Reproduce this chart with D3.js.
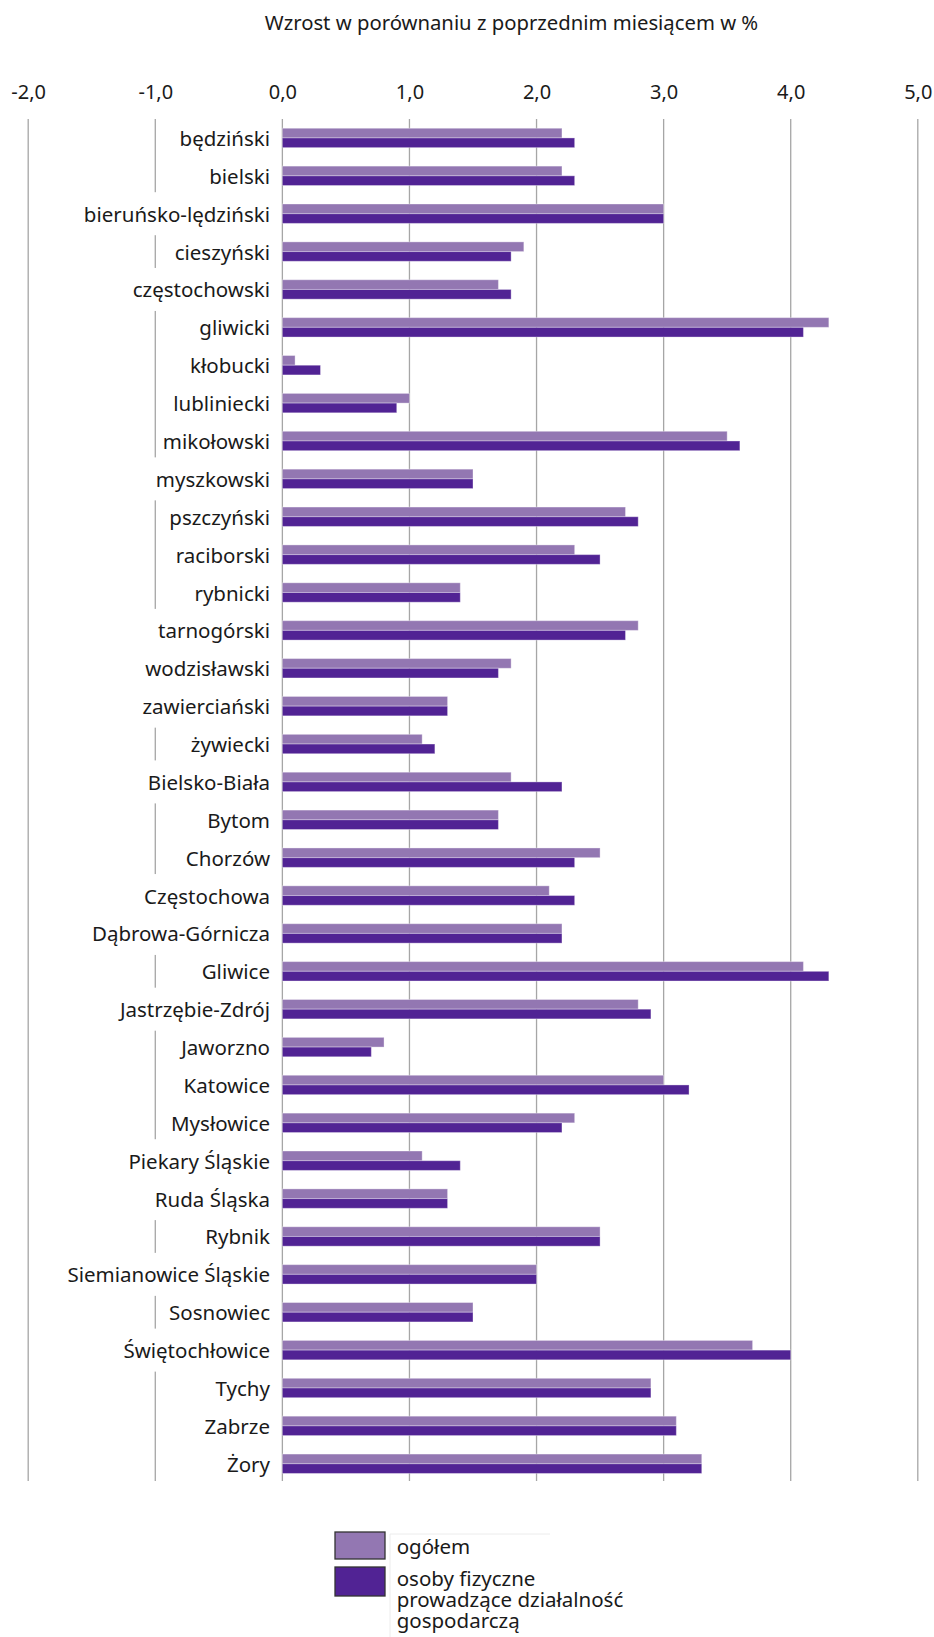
<!DOCTYPE html>
<html>
<head>
<meta charset="utf-8">
<script src="https://cdn.jsdelivr.net/npm/d3@7"></script>
<style>
  html, body { margin: 0; padding: 0; background: #fff; }
  svg { display: block; }
  text { font-family: "Noto Sans", "DejaVu Sans", sans-serif; fill: #1a1a1a; }
</style>
</head>
<body>
<script>
const categories = [
  "będziński", "bielski", "bieruńsko-lędziński", "cieszyński", "częstochowski",
  "gliwicki", "kłobucki", "lubliniecki", "mikołowski", "myszkowski",
  "pszczyński", "raciborski", "rybnicki", "tarnogórski", "wodzisławski",
  "zawierciański", "żywiecki", "Bielsko-Biała", "Bytom", "Chorzów",
  "Częstochowa", "Dąbrowa-Górnicza", "Gliwice", "Jastrzębie-Zdrój", "Jaworzno",
  "Katowice", "Mysłowice", "Piekary Śląskie", "Ruda Śląska", "Rybnik",
  "Siemianowice Śląskie", "Sosnowiec", "Świętochłowice", "Tychy", "Zabrze", "Żory"
];
const ogolem = [
  2.2, 2.2, 3.0, 1.9, 1.7,
  4.3, 0.1, 1.0, 3.5, 1.5,
  2.7, 2.3, 1.4, 2.8, 1.8,
  1.3, 1.1, 1.8, 1.7, 2.5,
  2.1, 2.2, 4.1, 2.8, 0.8,
  3.0, 2.3, 1.1, 1.3, 2.5,
  2.0, 1.5, 3.7, 2.9, 3.1, 3.3
];
const osobyFizyczne = [
  2.3, 2.3, 3.0, 1.8, 1.8,
  4.1, 0.3, 0.9, 3.6, 1.5,
  2.8, 2.5, 1.4, 2.7, 1.7,
  1.3, 1.2, 2.2, 1.7, 2.3,
  2.3, 2.2, 4.3, 2.9, 0.7,
  3.2, 2.2, 1.4, 1.3, 2.5,
  2.0, 1.5, 4.0, 2.9, 3.1, 3.3
];
const tickValues = [-2, -1, 0, 1, 2, 3, 4, 5];
const seriesNames = ["ogółem", "osoby fizyczne prowadzące działalność gospodarczą"];
const legendLines = [["ogółem"], ["osoby fizyczne", "prowadzące działalność", "gospodarczą"]];
const colors = ["#9377b2", "#512394"];
const title = "Wzrost w porównaniu z poprzednim miesiącem w %";

const W = 934, H = 1637;
const svg = d3.select("body").append("svg").attr("width", W).attr("height", H);

const x = d3.scaleLinear().domain([-2, 5]).range([28.2, 917.8]);
const y = d3.scaleBand().domain(categories).range([119, 1482.7]).padding(0);
const barH = 9.7;
const gridTop = 119, gridBottom = 1481;

// title
svg.append("text")
  .attr("x", 511.5).attr("y", 30)
  .attr("text-anchor", "middle")
  .style("font-size", "20.3px")
  .text(title);

// tick labels
const fmt = d => d3.format(".1f")(d).replace(".", ",").replace("\u2212", "-");
const axisG = svg.append("g").attr("transform", "translate(0,99)")
  .call(d3.axisTop(x).tickValues(tickValues).tickSize(0).tickPadding(0).tickFormat(fmt));
axisG.select(".domain").remove();
axisG.selectAll("text").attr("fill", "#1a1a1a").style("font-size", "20px").style("font-family", "'Noto Sans', sans-serif");

// gridlines
svg.append("g").selectAll("line").data(tickValues).join("line")
  .attr("x1", d => x(d)).attr("x2", d => x(d))
  .attr("y1", gridTop).attr("y2", gridBottom)
  .attr("stroke", "#a6a6a6").attr("stroke-width", 1.3);

// category labels with white backgrounds
const labelBg = svg.append("g");
const labelG = svg.append("g");
const labels = labelG.selectAll("text").data(categories).join("text")
  .attr("x", 270)
  .attr("y", d => y(d) + y.bandwidth() / 2 + 8)
  .attr("text-anchor", "end")
  .style("font-size", "20.5px")
  .text(d => d);
labels.each(function(d) {
  const bb = this.getBBox();
  labelBg.append("rect")
    .attr("x", bb.x - 6).attr("width", bb.width + 6)
    .attr("y", y(d) + y.bandwidth() / 2 - 21.5).attr("height", 43)
    .attr("fill", "#fff");
});

// bars
const barsG = svg.append("g");
const series = [ogolem, osobyFizyczne];
series.forEach((vals, si) => {
  barsG.append("g").selectAll("rect").data(categories).join("rect")
    .attr("x", (d, i) => Math.min(x(0), x(vals[i])))
    .attr("width", (d, i) => Math.abs(x(vals[i]) - x(0)))
    .attr("y", d => y(d) + y.bandwidth() / 2 - barH + si * barH)
    .attr("height", barH)
    .attr("fill", colors[si])
    .attr("stroke", "rgba(255,255,255,0.35)")
    .attr("stroke-width", 1);
});

// legend
const leg = svg.append("g");
leg.append("line").attr("x1", 390).attr("x2", 550).attr("y1", 1534).attr("y2", 1534)
  .attr("stroke", "#ececec").attr("stroke-width", 1);
leg.append("line").attr("x1", 390).attr("x2", 390).attr("y1", 1534).attr("y2", H)
  .attr("stroke", "#ececec").attr("stroke-width", 1);
const boxes = [{y: 1532, h: 27}, {y: 1567, h: 29}];
const baselines = [[1554], [1585.7, 1607, 1628]];
seriesNames.forEach((name, i) => {
  leg.append("rect")
    .attr("x", 335).attr("y", boxes[i].y)
    .attr("width", 50).attr("height", boxes[i].h)
    .attr("fill", colors[i]).attr("stroke", "#333").attr("stroke-width", 1.3);
  const t = leg.append("text").style("font-size", "20.5px");
  legendLines[i].forEach((ln, j) => {
    t.append("tspan").attr("x", 396.7).attr("y", baselines[i][j]).text(ln);
  });
});
</script>
</body>
</html>
